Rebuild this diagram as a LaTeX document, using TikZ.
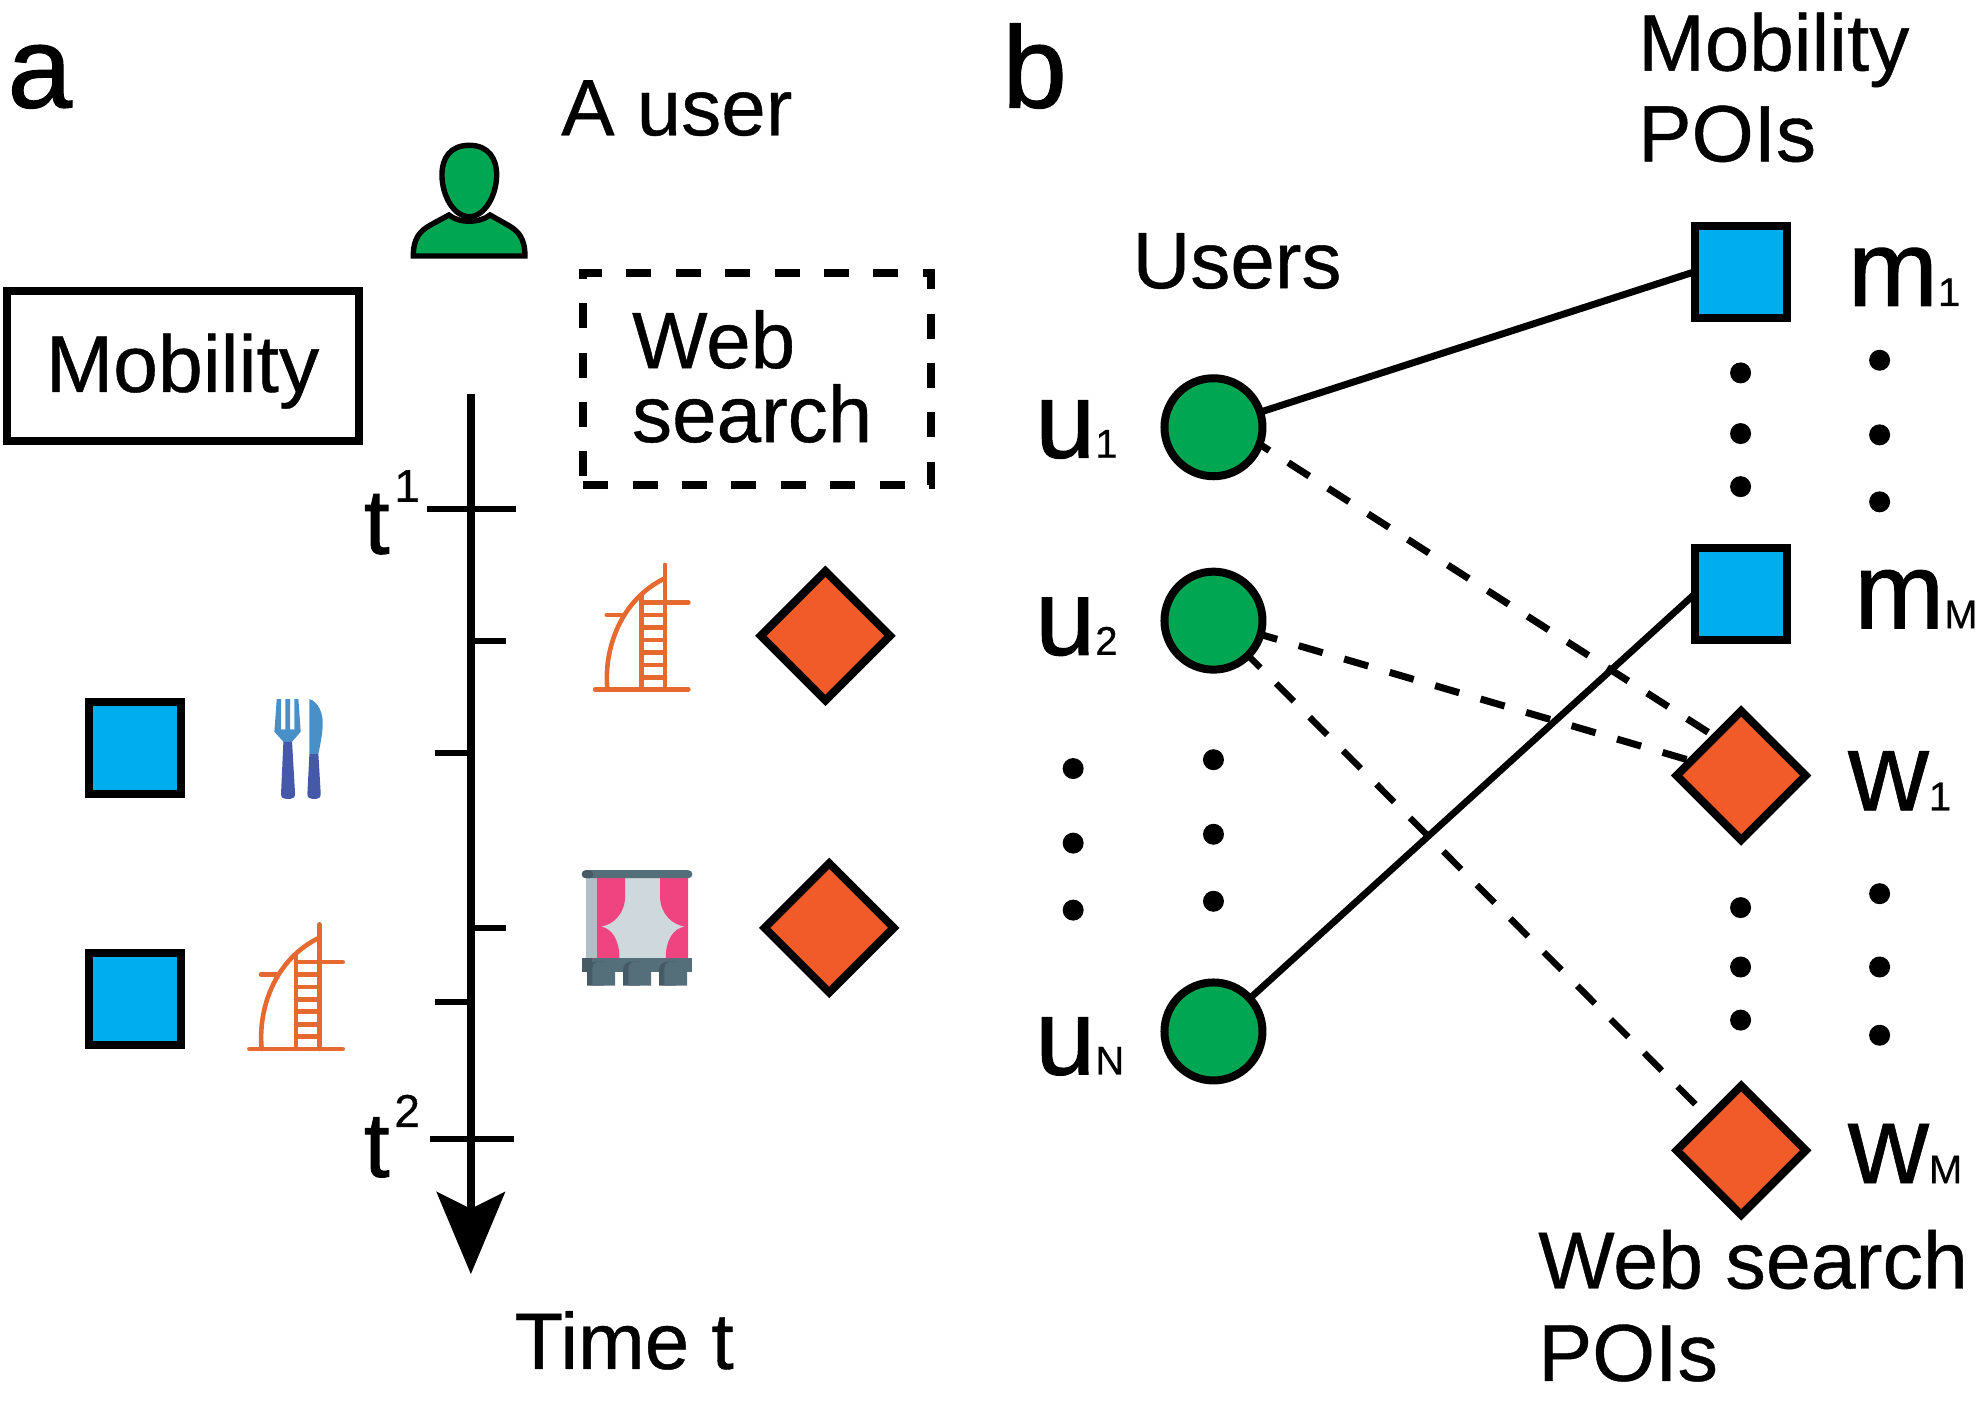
\documentclass[tikz,border=0pt]{standalone}
\usepackage{fontspec}
\setmainfont[FakeBold=0.5]{Liberation Sans}
\newfontfamily\heavyf[FakeBold=1.0]{Liberation Sans}
\usetikzlibrary{shapes.geometric,arrows.meta,backgrounds}
\definecolor{cgreen}{HTML}{00A651}
\definecolor{cblue}{HTML}{00AEEF}
\definecolor{corange}{HTML}{F15A29}
\definecolor{cburj}{HTML}{E66A30}
\definecolor{cfork}{HTML}{4A90C8}
\definecolor{chandle}{HTML}{4658A8}
\definecolor{cpink}{HTML}{EF447F}
\definecolor{cpane}{HTML}{CFD8DC}
\definecolor{cside}{HTML}{B0BEC5}
\definecolor{cslate}{HTML}{546E7A}
\definecolor{cslated}{HTML}{455A64}
\newcommand{\fs}[1]{\fontsize{#1}{#1}\selectfont}
\newcommand{\biglab}[3][54]{{\heavyf\fs{#1}#2}{\fs{20}#3}}
\newcommand{\burj}[2]{%
\begin{scope}[shift={(#1,#2)},x=0.16667pt,y=-0.16667pt,draw=cburj,line width=2.3pt,line cap=round]
\draw (75,419) -- (355,419);
\draw (285,45) -- (285,419);
\draw (215,135) -- (215,419);
\draw (215,158) -- (355,158);
\foreach \yy in {195,233,270,307,345,382} \draw (215,\yy) -- (285,\yy);
\draw (110,195) -- (155,195);
\draw (112,419) .. controls (100,300) and (150,150) .. (285,85);
\end{scope}}
\tikzset{
 lab/.style={anchor=base west,inner sep=0pt,outer sep=0pt,font=\fs{40}},
 hd/.style={anchor=base west,inner sep=0pt,outer sep=0pt,font=\heavyf\fs{58}},
 sym/.style={anchor=base west,inner sep=0pt,outer sep=0pt},
 sq/.style={draw=black,fill=cblue,line width=4pt,minimum size=46pt,inner sep=0pt,outer sep=0pt},
 dia/.style={diamond,aspect=1,draw=black,fill=corange,line width=4pt,minimum size=64.6pt,inner sep=0pt,outer sep=0pt},
 user/.style={circle,draw=black,fill=cgreen,line width=4pt,minimum size=49pt,inner sep=0pt,outer sep=0pt},
 dotm/.style={circle,fill=black,minimum size=10.5pt,inner sep=0pt},
 link/.style={line width=3.5pt},
 dlink/.style={line width=3.5pt,dash pattern=on 12.5pt off 11.2pt},
 tick/.style={line width=3pt},
}
\begin{document}
\begin{tikzpicture}[x=0.632pt,y=-0.632pt]
\useasboundingbox (0,0) rectangle (1568,1115.5);
% panel a labels
\node[hd] (la) at (6,85) {a};
\node[hd] (lb) at (793,85) {b};
\node[lab] (auser) at (444,107) {A user};
\node[draw=black,line width=4pt,minimum width=176pt,minimum height=75pt,font=\fs{40.3},inner sep=0pt] (mobbox) at (144.5,289.5) {\smash{\raisebox{-13pt}{Mobility}}};
\node[draw=black,line width=4pt,dash pattern=on 12.5pt off 12.2pt,minimum width=174pt,minimum height=106pt,font=\fs{40},align=left,inner sep=0pt] (webbox) at (599,299.5) {Web\\[-3pt]search\hspace*{5pt}\rule[-2.5pt]{0pt}{1pt}};
\node[lab] (timet) at (407,1083) {Time t};
% user icon
\begin{scope}[shift={(300.6,94.9)},x=0.16667pt,y=-0.16667pt,line width=2.7pt,draw=black,fill=cgreen]
\draw[fill=cgreen,line join=miter] (100,408) .. controls (100,355) and (120,333) .. (150,316) -- (207,285) .. controls (235,310) and (300,310) .. (330,285) -- (385,316) .. controls (415,333) and (435,355) .. (435,408) -- cycle;
\draw[fill=cgreen] (268,76) .. controls (325,76) and (350,115) .. (350,165) .. controls (350,225) and (315,290) .. (268,290) .. controls (220,290) and (186,225) .. (186,165) .. controls (186,115) and (210,76) .. (268,76) -- cycle;
\end{scope}
% timeline
\coordinate (tstart) at (372.5,312);
\coordinate (tend) at (372.5,1008);
\draw[line width=4pt,-{Stealth[length=41pt,width=34pt,inset=8.3pt]}] (tstart) -- (tend);
\coordinate (t1a) at (338,403); \coordinate (t1b) at (408,403);
\coordinate (k1a) at (372,507); \coordinate (k1b) at (400,507);
\coordinate (k2a) at (344,596); \coordinate (k2b) at (372,596);
\coordinate (k3a) at (372,734); \coordinate (k3b) at (400,734);
\coordinate (k4a) at (344,793); \coordinate (k4b) at (372,793);
\coordinate (t2a) at (340,901); \coordinate (t2b) at (407,901);
\foreach \p/\q in {t1a/t1b,k1a/k1b,k2a/k2b,k3a/k3b,k4a/k4b,t2a/t2b} \draw[tick] (\p) -- (\q);
\node[sym,font=\heavyf\fs{46}] (t1) at (288,438) {t};
\node[sym,font=\fs{23}] (t1s) at (312,397) {1};
\node[sym,font=\heavyf\fs{46}] (t2) at (288,931) {t};
\node[sym,font=\fs{23}] (t2s) at (312,891.5) {2};
% panel a glyph nodes
\node[sq] (as1) at (107,592) {};
\node[sq] (as2) at (107,790) {};
\node[dia] (ad1) at (653,503) {};
\node[dia] (ad2) at (656,734) {};
% icons
\burj{451}{435}
\burj{177.5}{719.4}
% fork & knife
\begin{scope}[shift={(182,522.2)},x=0.16667pt,y=-0.16667pt]
\fill[cfork] (140,117) -- (133,215) -- (160,245) -- (186,245) -- (212,215) -- (205,117) -- (193,117) -- (193,208) -- (180,208) -- (180,117) -- (166,117) -- (166,208) -- (153,208) -- (153,117) -- cycle;
\fill[chandle] (160,245) -- (186,245) -- (195,400) .. controls (195,412) and (190,416) .. (182,416) -- (166,416) .. controls (157,416) and (153,412) .. (153,400) -- cycle;
\fill[cfork] (238,117) .. controls (265,125) and (280,160) .. (278,195) .. controls (277,225) and (270,255) .. (265,282) -- (238,282) -- cycle;
\fill[chandle] (238,282) -- (265,282) -- (272,400) .. controls (272,412) and (267,416) .. (260,416) -- (245,416) .. controls (237,416) and (232,412) .. (232,400) -- cycle;
\end{scope}
% curtain
\begin{scope}[shift={(451,435)},x=0.16667pt,y=-0.16667pt]
\fill[cpane] (81,985) rectangle (354,1224);
\fill[cside] (48,985) rectangle (81,1224);
\fill[cpink] (81,985) -- (165,985) -- (165,1040) .. controls (165,1090) and (130,1125) .. (92,1130) .. controls (125,1135) and (148,1170) .. (148,1224) -- (81,1224) -- cycle;
\fill[cpink] (354,985) -- (270,985) -- (270,1040) .. controls (270,1090) and (305,1125) .. (345,1130) .. controls (310,1135) and (287,1170) .. (287,1224) -- (354,1224) -- cycle;
\fill[cslate,rounded corners=2pt] (35,961) rectangle (367,985);
\fill[cslated,rounded corners=2pt] (35,961) -- (70,961) -- (70,985) -- (35,985) -- cycle;
\fill[cslate] (35,1224) rectangle (367,1265);
\fill[cslated] (35,1224) rectangle (65,1265);
\foreach \xx in {51,159,267} {
 \fill[cslated] (\xx,1307) -- (\xx,1260) .. controls (\xx,1245) and ({\xx+10},1235) .. ({\xx+30},1235) -- ({\xx+50},1235) -- ({\xx+50},1307) -- cycle;
 \fill[cslate] ({\xx+16},1307) -- ({\xx+16},1255) .. controls ({\xx+16},1242) and ({\xx+25},1235) .. ({\xx+40},1235) -- ({\xx+84},1235) -- ({\xx+84},1307) -- cycle;
}
\end{scope}
% panel b nodes
\node[user] (u1) at (960,338) {};
\node[user] (u2) at (960,491) {};
\node[user] (uN) at (960,816) {};
\node[sq] (m1) at (1377,215) {};
\node[sq] (mM) at (1377,470) {};
\node[dia] (w1) at (1377.5,613.5) {};
\node[dia] (wM) at (1377.5,910) {};
% links
\begin{pgfonlayer}{background}
\draw[link] (u1.center) -- (m1.west);
\draw[link,line width=3.4pt] (uN.center) -- (mM.west);
\draw[dlink,dash phase=3pt] ([yshift=6.3pt]u1.center) -- ([yshift=11pt]w1.center);
\draw[dlink,dash phase=3pt] (u2.center) -- (w1.center);
\draw[dlink,line width=3.2pt,dash phase=3pt] (u2.center) -- (wM.center);
\end{pgfonlayer}
% labels b
\node[lab,align=left,anchor=north west] (mobpoi) at (1296,10) {Mobility\\[5.4pt]POIs};
\node[lab] (users) at (896,228) {Users};
\node[lab,align=left,anchor=north west,font=\fs{40.4}] (webpoi) at (1217,973) {Web search\\[5.8pt]POIs};
\node[sym] (lu1) at (819,362) {\biglab{u}{1}};
\node[sym] (lu2) at (819,518) {\biglab{u}{2}};
\node[sym] (luN) at (819,850) {\biglab{u}{N}};
\node[sym] (lm1) at (1462,242) {\biglab{m}{1}};
\node[sym] (lmM) at (1467,497) {\biglab{m}{M}};
\node[sym] (lw1) at (1462,641) {{\fs{56}w}{\fs{20}1}};
\node[sym] (lwM) at (1462,936) {{\fs{56}w}{\fs{20}M}};
% dots
\foreach \x/\y in {849/608,849/667,849/720,960/601,960/660,960/713,1377/295,1377/343,1377/385,1487/285,1487/344,1487/397,1377/718,1377/765,1377/807,1487/707,1487/765,1487/819}
 \node[dotm] at (\x,\y) {};
\end{tikzpicture}
\end{document}
